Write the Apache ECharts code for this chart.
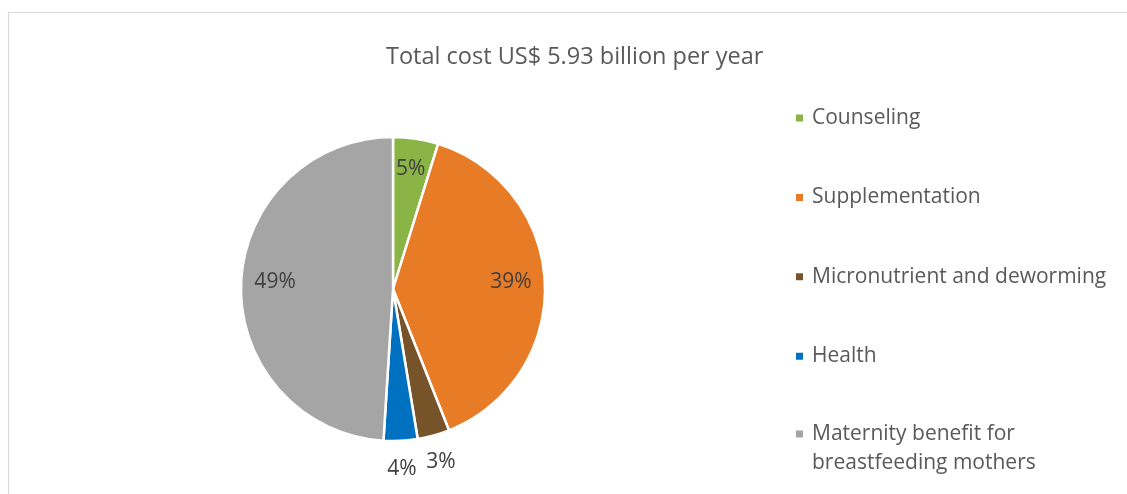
<!DOCTYPE html>
<html>
<head>
<meta charset="utf-8">
<script src="https://cdn.jsdelivr.net/npm/echarts@6/dist/echarts.min.js"></script>
<style>
  html, body { margin: 0; padding: 0; background: #fff; }
  #costpie { width: 1127px; height: 494px; }
</style>
</head>
<body>
<div id="costpie"></div>
<script>
// 数据 (share of total cost, %)
const categories = [
  "Counseling",
  "Supplementation",
  "Micronutrient and deworming",
  "Health",
  "Maternity benefit for\nbreastfeeding mothers",
];
const shares = [4.8, 39.2, 3.4, 3.6, 49.0];
const sliceColors = ["#8BB446", "#E87B25", "#77532A", "#0070C0", "#A5A5A5"];
const titleText = "Total cost US$ 5.93 billion per year";

const center = [393, 289];
const fontFamily = "'Open Sans', 'Noto Sans', sans-serif";

// small slices get their label outside the pie
const isSmall = (v) => v < 4.5;

const pieData = categories.map((name, i) => ({
  name: name,
  value: shares[i],
  itemStyle: { color: sliceColors[i] },
}));

const labelData = (outside) =>
  categories.map((name, i) => ({
    name: name,
    value: shares[i],
    label: { show: isSmall(shares[i]) === outside },
  }));

const labelStyle = {
  position: "inside",
  formatter: "{d}%",
  color: "#404040",
  fontSize: 21,
  fontFamily: fontFamily,
};

const legendText = (pad) => ({
  color: "#595959",
  fontSize: 21,
  fontFamily: fontFamily,
  lineHeight: 29,
  padding: pad,
});

const chart = echarts.init(document.getElementById("costpie"));

const option = {
  animation: false,
  backgroundColor: "#fff",
  title: {
    text: titleText,
    left: 386,
    top: 43,
    padding: 0,
    textStyle: {
      color: "#595959",
      fontSize: 23.5,
      fontWeight: "normal",
      fontFamily: fontFamily,
      lineHeight: 28,
    },
  },
  graphic: [
    {
      type: "rect",
      silent: true,
      shape: { x: 8.5, y: 12.5, width: 1200, height: 600 },
      style: { fill: "none", stroke: "#D9D9D9", lineWidth: 1.2 },
    },
  ],
  legend: [
    {
      orient: "vertical",
      left: 794,
      top: 103.5,
      padding: 0,
      itemGap: 50.4,
      itemWidth: 9,
      itemHeight: 9,
      icon: "rect",
      data: categories.slice(0, 4),
      textStyle: legendText([0, 0, 0, 3]),
    },
    {
      // two-line item: icon sits on the first line
      orient: "vertical",
      left: 794,
      top: 390.5,
      padding: 0,
      itemWidth: 9,
      itemHeight: 9,
      icon: "rect",
      data: categories.slice(4),
      formatter: (name) => "\n" + name,
      textStyle: legendText([0, 0, 0, 3]),
    },
  ],
  series: [
    {
      name: "cost",
      type: "pie",
      center: center,
      radius: [0, 152],
      startAngle: 90,
      clockwise: true,
      avoidLabelOverlap: false,
      itemStyle: { borderColor: "#fff", borderWidth: 2.5 },
      label: { show: false },
      labelLine: { show: false },
      emphasis: { disabled: true },
      data: pieData,
    },
    {
      // labels inside the big slices
      type: "pie",
      silent: true,
      center: center,
      radius: [78, 152],
      startAngle: 90,
      percentPrecision: 0,
      avoidLabelOverlap: false,
      itemStyle: { color: "transparent", borderWidth: 0 },
      label: Object.assign({ offset: [0, -3] }, labelStyle),
      labelLine: { show: false },
      emphasis: { disabled: true },
      data: labelData(false),
    },
    {
      // labels outside the small slices
      type: "pie",
      silent: true,
      center: center,
      radius: [168, 186],
      startAngle: 90,
      percentPrecision: 0,
      avoidLabelOverlap: false,
      itemStyle: { color: "transparent", borderWidth: 0 },
      label: labelStyle,
      labelLine: { show: false },
      emphasis: { disabled: true },
      data: labelData(true),
    },
  ],
};

chart.setOption(option);
</script>
</body>
</html>
